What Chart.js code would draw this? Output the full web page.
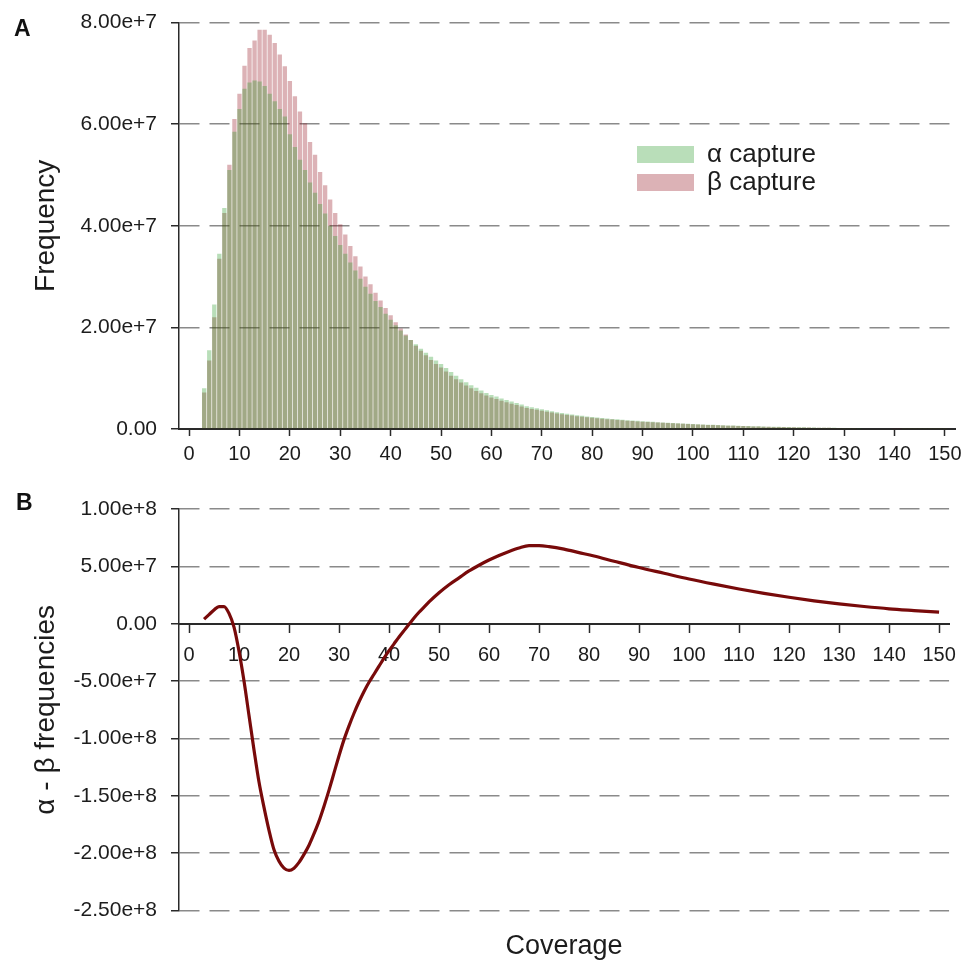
<!DOCTYPE html>
<html>
<head>
<meta charset="utf-8">
<script src="https://cdn.jsdelivr.net/npm/chart.js@4.4.1/dist/chart.umd.min.js"></script>
<style>
  html, body { margin: 0; padding: 0; background: #ffffff; }
  #wrap { position: relative; width: 968px; height: 963px; background: #ffffff; overflow: hidden; }
  .pane { position: absolute; left: 0; width: 968px; }
  .tag { position: absolute; font-family: "Liberation Sans", Arial, sans-serif; font-weight: bold; font-size: 23px; color: #111; line-height: 1; }
</style>
</head>
<body>
<div id="wrap">
  <div class="pane" style="top:-4px;height:474px"><canvas id="cA" width="968" height="474"></canvas></div>
  <div class="pane" style="top:470px;height:493px"><canvas id="cB" width="968" height="493"></canvas></div>
  <div class="tag" style="left:14px;top:17px">A</div>
  <div class="tag" style="left:16px;top:491px">B</div>
</div>
<script>
// ---------- data ----------
const coverage = [3,4,5,6,7,8,9,10,11,12,13,14,15,16,17,18,19,20,21,22,23,24,25,26,27,28,29,30,
  31,32,33,34,35,36,37,38,39,40,41,42,43,44,45,46,47,48,49,50,51,52,53,54,55,56,57,58,59,60,
  61,62,63,64,65,66,67,68,69,70,71,72,73,74,75,76,77,78,79,80,81,82,83,84,85,86,87,88,89,90,
  91,92,93,94,95,96,97,98,99,100,101,102,103,104,105,106,107,108,109,110,111,112,113,114,115,116,117,118,119,120,
  121,122,123,124,125,126,127,128,129,130,131,132,133,134,135,136,137,138,139,140,141,142,143,144,145,146,147,148,149,150];

const alphaCapture = [8.0e6,15.5e6,24.5e6,34.5e6,43.5e6,51.0e6,58.5e6,63.0e6,67.0e6,68.2e6,68.6e6,68.4e6,67.5e6,66.0e6,64.5e6,63.0e6,61.5e6,58.0e6,55.5e6,53.0e6,51.0e6,48.5e6,46.5e6,44.3e6,42.4e6,40.0e6,38.0e6,36.2e6,
  34.5e6,32.8e6,31.2e6,29.6e6,28.0e6,26.6e6,25.2e6,24.0e6,22.7e6,21.5e6,20.4e6,19.4e6,18.4e6,17.5e6,16.7e6,15.8e6,15.0e6,14.2e6,13.5e6,12.8e6,12.0e6,11.2e6,10.5e6,9.8e6,9.2e6,8.6e6,8.1e6,7.6e6,7.1e6,6.7e6,
  6.4e6,6.0e6,5.7e6,5.4e6,5.1e6,4.8e6,4.5e6,4.3e6,4.1e6,3.9e6,3.7e6,3.5e6,3.3e6,3.15e6,3.0e6,2.85e6,2.72e6,2.6e6,2.48e6,2.37e6,2.27e6,2.17e6,2.08e6,1.99e6,1.9e6,1.82e6,1.74e6,1.67e6,1.6e6,1.53e6,
  1.47e6,1.41e6,1.35e6,1.3e6,1.25e6,1.19e6,1.14e6,1.09e6,1.04e6,1.0e6,0.95e6,0.9e6,0.86e6,0.82e6,0.78e6,0.74e6,0.7e6,0.67e6,0.64e6,0.61e6,0.58e6,0.55e6,0.52e6,0.49e6,0.46e6,0.44e6,0.42e6,0.4e6,0.38e6,0.36e6,
  0.34e6,0.32e6,0.3e6,0.285e6,0.27e6,0.255e6,0.24e6,0.23e6,0.22e6,0.21e6,0.2e6,0.19e6,0.18e6,0.17e6,0.16e6,0.155e6,0.15e6,0.14e6,0.135e6,0.13e6,0.125e6,0.12e6,0.115e6,0.11e6,0.105e6,0.1e6,0.095e6,0.09e6,0.085e6,0.08e6];

const betaCapture = [7.2e6,13.5e6,22.0e6,33.5e6,42.5e6,52.0e6,61.0e6,66.0e6,71.5e6,75.0e6,76.5e6,78.6e6,78.6e6,77.6e6,76.0e6,73.7e6,71.4e6,68.5e6,65.5e6,62.5e6,60.2e6,56.5e6,54.0e6,50.6e6,48.0e6,45.2e6,42.5e6,40.3e6,
  38.3e6,36.0e6,34.0e6,32.0e6,30.0e6,28.5e6,26.8e6,25.3e6,23.8e6,22.4e6,21.0e6,19.8e6,18.6e6,17.5e6,16.4e6,15.4e6,14.5e6,13.6e6,12.8e6,12.1e6,11.3e6,10.5e6,9.8e6,9.15e6,8.55e6,8.0e6,7.5e6,7.05e6,6.6e6,6.2e6,
  5.9e6,5.55e6,5.25e6,4.98e6,4.7e6,4.42e6,4.15e6,3.96e6,3.78e6,3.6e6,3.42e6,3.24e6,3.06e6,2.92e6,2.78e6,2.64e6,2.52e6,2.41e6,2.3e6,2.2e6,2.11e6,2.02e6,1.94e6,1.85e6,1.77e6,1.7e6,1.62e6,1.56e6,1.49e6,1.43e6,
  1.37e6,1.32e6,1.26e6,1.21e6,1.17e6,1.11e6,1.07e6,1.02e6,0.97e6,0.93e6,0.89e6,0.84e6,0.8e6,0.77e6,0.73e6,0.69e6,0.65e6,0.63e6,0.6e6,0.57e6,0.54e6,0.51e6,0.49e6,0.46e6,0.43e6,0.41e6,0.39e6,0.37e6,0.355e6,0.335e6,
  0.315e6,0.3e6,0.28e6,0.265e6,0.25e6,0.24e6,0.225e6,0.215e6,0.205e6,0.195e6,0.185e6,0.175e6,0.17e6,0.16e6,0.15e6,0.145e6,0.14e6,0.13e6,0.125e6,0.12e6,0.115e6,0.11e6,0.105e6,0.1e6,0.098e6,0.093e6,0.088e6,0.084e6,0.079e6,0.075e6];

const diffCoverage = [3,4,5,6,7,8,9,10,11,12,13,14,15,16,17,18,19,20,21,22,23,24,25,26,27,28,29,30,31,32,33,34,35,36,37,38,39,40,41,42,43,44,45,46,47,48,
  50,52,54,56,58,60,62,64,66,68,70,72,75,78,81,85,90,95,100,105,110,115,120,125,130,135,140,145,150];
const diffValues = [4e6,8e6,12e6,15e6,15e6,9e6,-3e6,-24e6,-50e6,-80e6,-110e6,-138e6,-160e6,-180e6,-197e6,-207e6,-213e6,-215e6,-213e6,-208e6,-201e6,-193e6,-183e6,-172e6,-159e6,-145e6,-130e6,-115e6,
  -101e6,-89e6,-78e6,-68e6,-59e6,-51e6,-44e6,-37e6,-30e6,-23.5e6,-17.5e6,-11.5e6,-6e6,-0.5e6,5e6,10e6,14.5e6,19e6,
  27e6,34e6,40e6,46e6,51e6,55.5e6,59.5e6,63e6,66e6,68e6,68e6,67.2e6,65e6,62e6,59e6,54.5e6,49e6,44e6,39e6,34.5e6,30.3e6,26.5e6,23.1e6,20e6,17.3e6,15e6,13e6,11.5e6,10.1e6];

const xTickValues = [0,10,20,30,40,50,60,70,80,90,100,110,120,130,140,150];
const freqTicks = [0, 2e7, 4e7, 6e7, 8e7];
const diffTicks = [-2.5e8, -2e8, -1.5e8, -1e8, -5e7, 0, 5e7, 1e8];
const seriesLabels = ['\u03b1 capture', '\u03b2 capture'];
const axisTitles = { freq: 'Frequency', diff: '\u03b1 - \u03b2 frequencies', x: 'Coverage' };

// ---------- styling ----------
Chart.defaults.font.family = '"Liberation Sans", Arial, Helvetica, sans-serif';
Chart.defaults.color = '#1c1c1c';
const GREEN = 'rgba(22,145,22,0.30)';
const PINK  = 'rgba(140,0,12,0.30)';
const GRID  = '#8a8a8a';
const AXIS  = '#2a2a2a';
const xTickFont = { size: 20 };
const yTickFont = { size: 21 };
const yTitleFont = { size: 28 };
const fmt = v => (v === 0 ? '0.00' : Number(v).toExponential(2));

const xScaleBase = (tickLen, pad) => ({
  type: 'linear', min: -2, max: 152, offset: false,
  afterBuildTicks: s => { s.ticks = xTickValues.map(v => ({ value: v })); },
  ticks: { font: xTickFont, color: '#1c1c1c', padding: pad, maxRotation: 0, autoSkip: false, callback: v => String(v) },
  grid: { display: true, offset: false, drawOnChartArea: false, drawTicks: true, tickLength: tickLen, tickColor: AXIS, tickWidth: 1.5 },
  border: { display: true, color: AXIS, width: 2 }
});

const yScaleBase = (ticksArr, min, max, title) => ({
  min: min, max: max,
  afterBuildTicks: s => { s.ticks = ticksArr.map(v => ({ value: v })); },
  afterFit: s => { s.width = 179; },
  ticks: { font: yTickFont, color: '#1c1c1c', padding: 14, callback: fmt },
  grid: { display: true, drawOnChartArea: true, color: GRID, lineWidth: 1.5, drawTicks: true, tickLength: 8, tickColor: AXIS, tickWidth: 1.5, tickBorderDash: [] },
  border: { display: true, color: AXIS, width: 1.5, dash: [20, 10] },
  title: { display: true, text: title, font: yTitleFont, color: '#1c1c1c', padding: { top: 29, bottom: 0 } }
});

// place legend inside the plot area of panel A
const legendPlacer = {
  id: 'legendPlacer',
  afterLayout(chart) {
    const lg = chart.legend, ca = chart.chartArea;
    if (!lg) return;
    lg.left = ca.left + 456;
    lg.top = ca.top + 117;
    lg.right = lg.left + lg.width + 30;
    lg.bottom = lg.top + 90;
  }
};

// ---------- panel A ----------
const xyA = arr => coverage.map((c, i) => ({ x: c, y: arr[i] }));
new Chart(document.getElementById('cA'), {
  type: 'bar',
  data: {
    datasets: [
      { label: seriesLabels[0], data: xyA(alphaCapture), backgroundColor: GREEN, borderWidth: 0, grouped: false, barPercentage: 0.86, categoryPercentage: 1 },
      { label: seriesLabels[1], data: xyA(betaCapture),  backgroundColor: PINK,  borderWidth: 0, grouped: false, barPercentage: 0.86, categoryPercentage: 1 }
    ]
  },
  options: {
    responsive: false, animation: false, devicePixelRatio: 1,
    layout: { padding: { top: 17, right: 13, left: 0, bottom: 0 } },
    plugins: {
      legend: {
        display: true, position: 'chartArea', align: 'start',
        labels: { boxWidth: 57, boxHeight: 17, padding: 2, font: { size: 26 }, color: '#1c1c1c' }
      },
      tooltip: { enabled: false },
      title: { display: false }
    },
    scales: {
      x: Object.assign(xScaleBase(7, 6), { afterFit: s => { s.height = 41; } }),
      y: yScaleBase(freqTicks, 0, 8e7, axisTitles.freq)
    }
  },
  plugins: [legendPlacer]
});

// ---------- panel B ----------
new Chart(document.getElementById('cB'), {
  type: 'line',
  data: {
    datasets: [{
      label: axisTitles.diff,
      data: diffCoverage.map((c, i) => ({ x: c, y: diffValues[i] })),
      borderColor: '#780a0a', backgroundColor: '#780a0a', borderWidth: 3.2,
      pointRadius: 0, fill: false, cubicInterpolationMode: 'monotone'
    }]
  },
  options: {
    responsive: false, animation: false, devicePixelRatio: 1,
    layout: { padding: { top: 39, right: 13, left: 0, bottom: 0 } },
    plugins: {
      legend: { display: false },
      tooltip: { enabled: false },
      title: { display: true, fullSize: false, text: axisTitles.x, position: 'bottom', font: { size: 27, weight: 'normal' }, color: '#1c1c1c', padding: { top: 20, bottom: 0 } }
    },
    scales: {
      x: Object.assign(xScaleBase(8, 12), { position: { y: 0 } }),
      y: yScaleBase(diffTicks, -2.5e8, 1e8, axisTitles.diff)
    }
  }
});
</script>
</body>
</html>
